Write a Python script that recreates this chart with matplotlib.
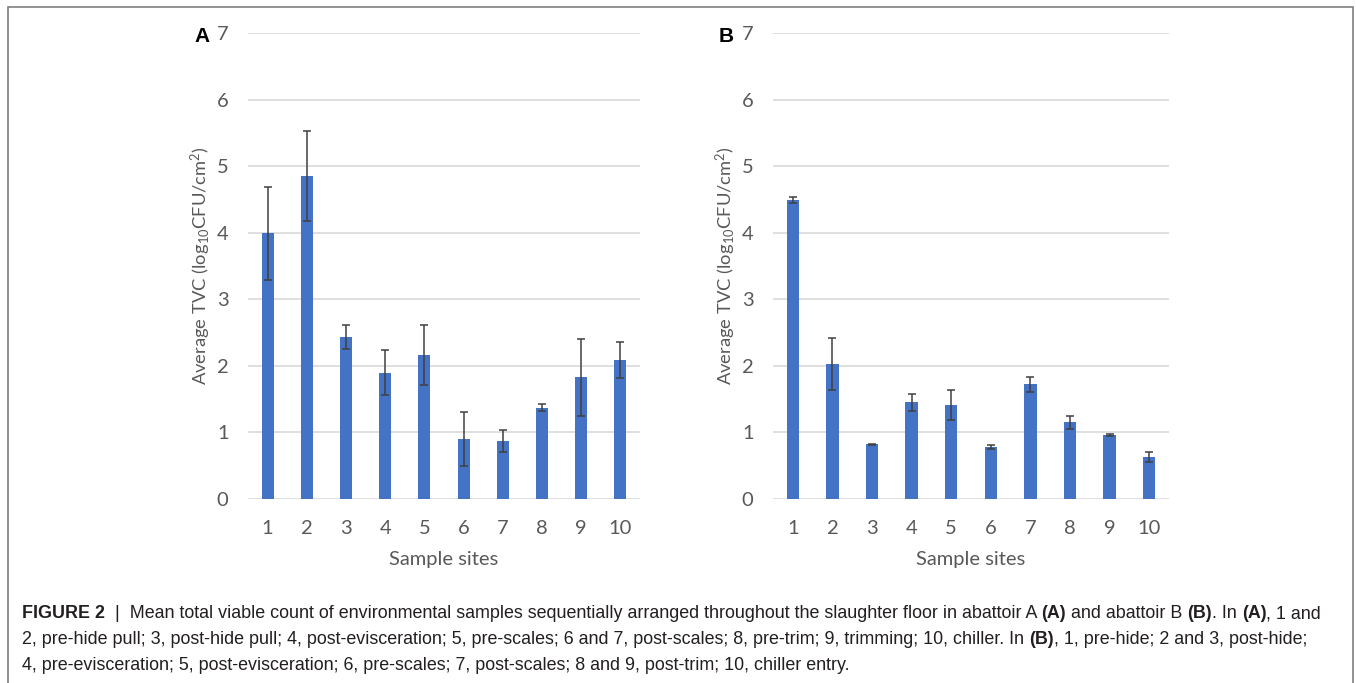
import matplotlib
matplotlib.use("Agg")
import matplotlib.pyplot as plt
from matplotlib.patches import Rectangle

sites = ["1", "2", "3", "4", "5", "6", "7", "8", "9", "10"]
tvc_a = [3.99, 4.85, 2.43, 1.90, 2.16, 0.90, 0.87, 1.37, 1.83, 2.09]
err_a = [0.70, 0.68, 0.18, 0.34, 0.45, 0.41, 0.17, 0.05, 0.58, 0.27]
tvc_b = [4.49, 2.03, 0.82, 1.45, 1.41, 0.78, 1.72, 1.15, 0.96, 0.63]
err_b = [0.05, 0.39, 0.005, 0.13, 0.23, 0.03, 0.11, 0.10, 0.01, 0.07]
yticks = [0, 1, 2, 3, 4, 5, 6, 7]

plt.rcParams['font.family'] = ['Lato', 'DejaVu Sans']
plt.rcParams['mathtext.fontset'] = 'custom'
plt.rcParams['mathtext.rm'] = 'Lato'
plt.rcParams['mathtext.it'] = 'Lato'

W, H = 1356, 683
fig = plt.figure(figsize=(W / 100, H / 100), dpi=100)

txt = '#595959'
bar_col = '#4472C4'

def panel(left, right, vals, errs, letter):
    ax = fig.add_axes([left / W, 1 - 499 / H, (right - left) / W, (499 - 33) / H])
    x = list(range(1, len(sites) + 1))
    ax.bar(x, vals, width=0.31, color=bar_col, zorder=3)
    ax.errorbar(x, vals, yerr=errs, fmt='none', ecolor='#404040', elinewidth=1.1,
                capsize=3, capthick=1.1, zorder=4)
    ax.set_xlim(0.5, len(sites) + 0.5)
    ax.set_ylim(0, 7)
    ax.set_yticks(yticks)
    ax.set_yticklabels([str(t) for t in yticks])
    ax.set_xticks(x)
    ax.set_xticklabels(sites)
    ax.yaxis.grid(True, color='#d9d9d9', linewidth=1.2, zorder=0)
    ax.set_axisbelow(True)
    for s in ax.spines.values():
        s.set_visible(False)
    ax.tick_params(axis='both', length=0, labelsize=14.5, labelcolor=txt)
    ax.tick_params(axis='y', pad=14)
    ax.tick_params(axis='x', pad=15)
    ax.set_xlabel('Sample sites', fontsize=14.5, color=txt, labelpad=10)
    ax.set_ylabel(r'Average TVC (log$_{10}$CFU/cm$^{2}$)', fontsize=13.2, color=txt, labelpad=3)
    fig.text((left - 54) / W, 1 - 36 / H, letter, fontsize=15, fontweight='bold',
             family=['Liberation Sans', 'DejaVu Sans'], color='black', va='center', ha='left')
    return ax

panel(248, 640, tvc_a, err_a, 'A')
panel(773, 1169, tvc_b, err_b, 'B')

# figure frame
fig.patches.append(Rectangle((8 / W, -0.01), (1353 - 8) / W, 1 - 7 / H + 0.01,
                             transform=fig.transFigure, fill=False,
                             edgecolor='#7f7f7f', linewidth=1.2))

cap_font = ['Liberation Sans', 'DejaVu Sans']
lines = [
    [("FIGURE 2", True), ("  |  Mean total viable count of environmental samples sequentially arranged throughout the slaughter floor in abattoir A ", False),
     ("(A)", True), (" and abattoir B ", False), ("(B)", True), (". In ", False), ("(A)", True), (", 1 and", False)],
    [("2, pre-hide pull; 3, post-hide pull; 4, post-evisceration; 5, pre-scales; 6 and 7, post-scales; 8, pre-trim; 9, trimming; 10, chiller. In ", False),
     ("(B)", True), (", 1, pre-hide; 2 and 3, post-hide;", False)],
    [("4, pre-evisceration; 5, post-evisceration; 6, pre-scales; 7, post-scales; 8 and 9, post-trim; 10, chiller entry.", False)],
]
ys = [614, 640, 665]
fig.canvas.draw()
r = fig.canvas.get_renderer()

def line_width(segs, size):
    tot = 0
    for s, bold in segs:
        t = fig.text(0, 0, s, fontsize=size, family=cap_font,
                     fontweight='bold' if bold else 'normal')
        tot += t.get_window_extent(renderer=r).width
        t.remove()
    return tot

base = 10.6
cs = base * (1312 / line_width(lines[0], base))

for segs, yy in zip(lines, ys):
    xpix = 22
    for s, bold in segs:
        t = fig.text(xpix / W, 1 - yy / H, s, fontsize=cs, family=cap_font,
                     fontweight='bold' if bold else 'normal', color='#231f20',
                     va='center', ha='left')
        bb = t.get_window_extent(renderer=r)
        xpix += bb.width

fig.savefig('out.png', dpi=100)
